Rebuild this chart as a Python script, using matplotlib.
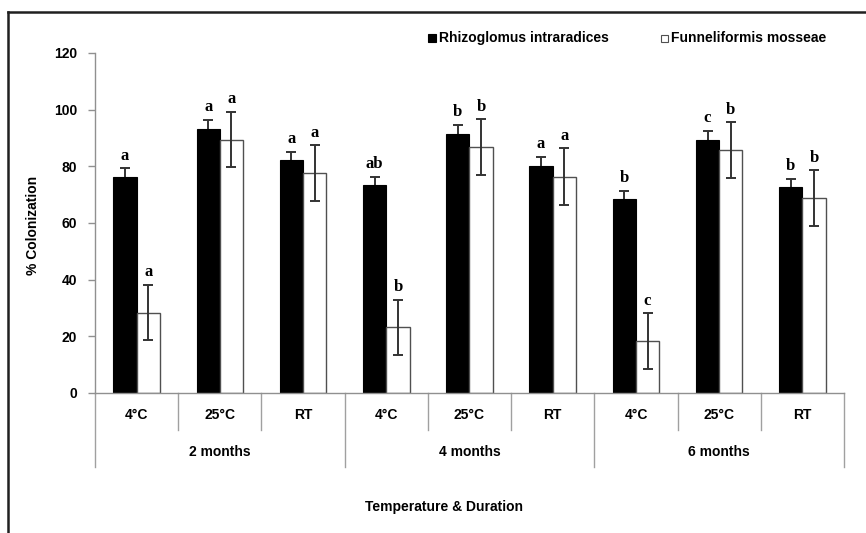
import numpy as np
import matplotlib
matplotlib.use("Agg")
import matplotlib.pyplot as plt
from matplotlib import font_manager
from matplotlib.patches import Rectangle
from matplotlib.lines import Line2D
import matplotlib.transforms as mtransforms

# ---- data ----
temperatures = ["4°C", "25°C", "RT", "4°C", "25°C", "RT", "4°C", "25°C", "RT"]
durations = ["2 months", "4 months", "6 months"]
series_names = ["Rhizoglomus intraradices", "Funneliformis mosseae"]
rhizo = [76.3, 93.3, 82.1, 73.3, 91.5, 80.2, 68.4, 89.4, 72.6]
rhizo_err = [3.1, 3.1, 3.1, 3.1, 3.1, 3.1, 3.0, 3.1, 3.0]
funnel = [28.4, 89.4, 77.6, 23.2, 86.8, 76.4, 18.3, 85.7, 68.8]
funnel_err = [9.8, 9.8, 9.8, 9.8, 9.9, 9.9, 9.8, 9.8, 9.8]
rhizo_letters = ["a", "a", "a", "ab", "b", "a", "b", "c", "b"]
funnel_letters = ["a", "a", "a", "b", "b", "a", "c", "b", "b"]
y_ticks = [0, 20, 40, 60, 80, 100, 120]

# ---- fonts ----
avail = {f.name for f in font_manager.fontManager.ttflist}
sans = "Liberation Sans Narrow" if "Liberation Sans Narrow" in avail else "Liberation Sans"
serif = "Liberation Serif"

W, H = 866, 533
fig = plt.figure(figsize=(W / 100, H / 100), dpi=100)

def fx(px):
    return px / W

def fy(py):
    return 1 - py / H

ax_left, ax_right, ax_top, ax_bot = 95, 844, 53, 393
ax = fig.add_axes([fx(ax_left), fy(ax_bot), fx(ax_right - ax_left), (ax_bot - ax_top) / H])

x = np.arange(len(temperatures))
bw = 0.28
ax.bar(x - bw / 2, rhizo, width=bw, color="black", edgecolor="black", linewidth=0.8, zorder=2)
ax.bar(x + bw / 2, funnel, width=bw, color="white", edgecolor="#505050", linewidth=1.0, zorder=2)
# black bars: error bars drawn beneath the bar so only the upper half shows
ax.errorbar(x - bw / 2, rhizo, yerr=rhizo_err, fmt="none",
            ecolor="#333333", elinewidth=1.4, capsize=3.5, capthick=1.4, zorder=1)
ax.errorbar(x + bw / 2, funnel, yerr=funnel_err, fmt="none", ecolor="#333333",
            elinewidth=1.4, capsize=3.5, capthick=1.4, zorder=3)

for xi, v, e, t in zip(x - bw / 2, rhizo, rhizo_err, rhizo_letters):
    ax.text(xi, v + e + 3.0, t, ha="center", va="baseline", fontsize=12,
            fontweight="bold", family=serif)
for xi, v, e, t in zip(x + bw / 2, funnel, funnel_err, funnel_letters):
    ax.text(xi, v + e + 3.0, t, ha="center", va="baseline", fontsize=12,
            fontweight="bold", family=serif)

ax.set_xlim(-0.5, len(temperatures) - 0.5)
ax.set_ylim(0, 120)
ax.set_yticks(y_ticks)
ax.set_yticklabels([str(t) for t in y_ticks], fontsize=10, fontweight="bold", family=sans)
ax.tick_params(axis="y", direction="out", length=5, width=1, color="#909090", pad=8)
ax.set_xticks([])
for s in ["top", "right"]:
    ax.spines[s].set_visible(False)
ax.spines["left"].set_color("#909090")
ax.spines["bottom"].set_color("#909090")
ax.spines["left"].set_linewidth(1)
ax.spines["bottom"].set_linewidth(1)
ax.spines["bottom"].set_zorder(4)

# category separators and labels
trans = mtransforms.blended_transform_factory(ax.transData, ax.transAxes)
axh = ax_bot - ax_top
inner_len = -37 / axh
group_len = -74 / axh
for k in range(len(temperatures) + 1):
    xb = k - 0.5
    y_end = group_len if k % 3 == 0 else inner_len
    ax.add_line(Line2D([xb, xb], [0, y_end], transform=trans, color="#a0a0a0",
                       linewidth=1, clip_on=False))
for xi, t in zip(x, temperatures):
    ax.text(xi, -22 / axh, t, transform=trans, ha="center", va="center",
            fontsize=10, fontweight="bold", family=sans)
for gi, d in enumerate(durations):
    ax.text(gi * 3 + 1, -59 / axh, d, transform=trans, ha="center", va="center",
            fontsize=10, fontweight="bold", family=sans)

# axis titles
fig.text(fx(33), fy(225), "% Colonization", rotation=90, ha="center", va="center",
         fontsize=10, fontweight="bold", family=sans)
fig.text(fx(444), fy(507), "Temperature & Duration", ha="center", va="center",
         fontsize=10, fontweight="bold", family=sans)

# legend
leg_y = 38
fig.add_artist(Rectangle((fx(428), fy(leg_y + 4)), fx(8), 8 / H, facecolor="black",
                         edgecolor="black", linewidth=0.8, transform=fig.transFigure))
fig.text(fx(439), fy(leg_y), series_names[0], ha="left", va="center",
         fontsize=10, fontweight="bold", family=sans)
fig.add_artist(Rectangle((fx(661), fy(leg_y + 4)), fx(7), 7 / H, facecolor="white",
                         edgecolor="#505050", linewidth=0.8, transform=fig.transFigure))
fig.text(fx(671), fy(leg_y), series_names[1], ha="left", va="center",
         fontsize=10, fontweight="bold", family=sans)

# outer frame (left and top edges visible)
fig.add_artist(Line2D([fx(8), fx(8)], [0, fy(12)], color="#202020", linewidth=1.8,
                      transform=fig.transFigure))
fig.add_artist(Line2D([fx(8), 1], [fy(12), fy(12)], color="#202020", linewidth=1.8,
                      transform=fig.transFigure))

fig.savefig("out.png", dpi=100)
